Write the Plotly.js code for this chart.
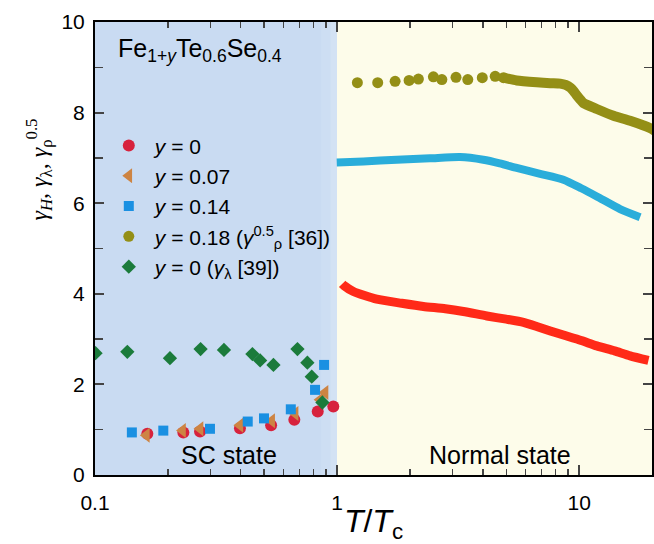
<!DOCTYPE html>
<html>
<head>
<meta charset="utf-8">
<script src="https://cdn.plot.ly/plotly-3.0.1.min.js"></script>
<style>html,body{margin:0;padding:0;background:#fff;}#chart{width:654px;height:544px;}</style>
</head>
<body>
<div id="chart"></div>
<script>
// ---- data ----
// Superconducting state, gamma_H
var scX_y0   = [0.1645, 0.2317, 0.2716, 0.397, 0.534, 0.666, 0.832, 0.965];
var scY_y0   = [0.91, 0.94, 0.96, 1.03, 1.10, 1.22, 1.40, 1.51];
var scX_y007 = [0.163, 0.230, 0.2716, 0.397, 0.537, 0.671, 0.851, 0.892];
var scY_y007 = [0.88, 0.98, 1.02, 1.10, 1.20, 1.36, 1.66, 1.82];
var scX_y014 = [0.142, 0.1915, 0.2985, 0.4275, 0.499, 0.644, 0.811, 0.884];
var scY_y014 = [0.94, 0.98, 1.02, 1.18, 1.25, 1.45, 1.88, 2.43];
// gamma_lambda [39]
var lamX = [0.1005, 0.136, 0.204, 0.273, 0.341, 0.447, 0.481, 0.546, 0.686, 0.754, 0.786, 0.870];
var lamY = [2.69, 2.72, 2.58, 2.78, 2.76, 2.67, 2.53, 2.43, 2.78, 2.48, 2.17, 1.60];
// Normal state, y = 0 (red curve)
var nX_y0 = [1.05, 1.069, 1.168, 1.459, 1.85, 2.274, 2.8, 3.327, 4.156, 5.0, 5.89, 6.68, 7.6, 8.61, 10.2, 11.83, 14.0, 16.25, 19.34];
var nY_y0 = [4.22, 4.18, 4.05, 3.88, 3.79, 3.72, 3.67, 3.61, 3.51, 3.44, 3.37, 3.28, 3.18, 3.09, 2.97, 2.85, 2.74, 2.63, 2.53];
// Normal state, y = 0.14 (blue curve)
var nX_y014 = [0.997, 1.284, 1.765, 2.42, 3.22, 4.02, 4.7, 5.52, 6.9, 8.61, 10.2, 11.83, 14.76, 17.86];
var nY_y014 = [6.90, 6.92, 6.96, 6.99, 7.02, 6.96, 6.88, 6.78, 6.65, 6.52, 6.33, 6.15, 5.87, 5.69];
// y = 0.18, gamma_rho^0.5 [36]: separate dots then dense curve
var rhoDotX = [1.213, 1.472, 1.737, 1.984, 2.168, 2.50, 2.71, 3.10, 3.467, 3.98, 4.50, 4.87];
var rhoDotY = [8.66, 8.66, 8.69, 8.71, 8.74, 8.79, 8.73, 8.78, 8.73, 8.77, 8.80, 8.77];
var rhoLineX = [4.87, 5.52, 6.68, 7.6, 8.35, 8.8, 9.2, 9.5, 9.78, 10.1, 10.42, 11.83, 13.87, 16.25, 19.6, 20.5];
var rhoLineY = [8.77, 8.71, 8.67, 8.65, 8.64, 8.61, 8.55, 8.47, 8.38, 8.29, 8.21, 8.08, 7.93, 7.82, 7.66, 7.60];
// axis ticks
var xTickVals = [0.1, 1, 10];
var xTickText = ['0.1', '1', '10'];
var xMinorVals = [0.2,0.3,0.4,0.5,0.6,0.7,0.8,0.9,2,3,4,5,6,7,8,9];
var yTickVals = [0, 2, 4, 6, 8, 10];
var yTickText = ['0', '2', '4', '6', '8', '10'];
var regionX = [0.1, 1, 20];

var traces = [
  {x: scX_y0, y: scY_y0, type: 'scatter', mode: 'markers', name: '<i>y</i> = 0',
   marker: {symbol: 'circle', size: 12, color: '#d7223d'}},
  {x: scX_y007, y: scY_y007, type: 'scatter', mode: 'markers', name: '<i>y</i> = 0.07',
   marker: {symbol: 'triangle-left', size: 13, color: '#cd8443'}},
  {x: scX_y014, y: scY_y014, type: 'scatter', mode: 'markers', name: '<i>y</i> = 0.14',
   marker: {symbol: 'square', size: 10, color: '#1a90e2'}},
  {x: rhoDotX, y: rhoDotY, type: 'scatter', mode: 'markers', name: '<i>y</i> = 0.18 (<i>γ</i><sup>0.5</sup><sub>ρ</sub> [36])',
   marker: {symbol: 'circle', size: 11, color: '#948f16'}},
  {x: lamX, y: lamY, type: 'scatter', mode: 'markers', name: '<i>y</i> = 0 (<i>γ</i><sub>λ</sub> [39])',
   marker: {symbol: 'diamond', size: 11, color: '#1b7b3b'}},
  {x: rhoLineX, y: rhoLineY, type: 'scatter', mode: 'lines', showlegend: false,
   line: {color: '#948f16', width: 10, shape: 'spline', smoothing: 0.6}},
  {x: nX_y014, y: nY_y014, type: 'scatter', mode: 'lines', showlegend: false,
   line: {color: '#2aadda', width: 8, shape: 'spline', smoothing: 0.6}},
  {x: nX_y0, y: nY_y0, type: 'scatter', mode: 'lines', showlegend: false,
   line: {color: '#ff2a18', width: 9, shape: 'spline', smoothing: 0.6}}
];

var layout = {
  width: 654, height: 544,
  margin: {l: 95, r: 2, t: 22, b: 69},
  paper_bgcolor: '#ffffff', plot_bgcolor: '#ffffff',
  font: {family: 'Liberation Sans, Arial, sans-serif', color: '#000'},
  showlegend: true,
  legend: {x: 0.014, y: 0.772, xanchor: 'left', yanchor: 'top', bgcolor: 'rgba(0,0,0,0)',
           font: {size: 21, color: '#000'}, tracegroupgap: 0, itemwidth: 42},
  xaxis: {type: 'log', range: [Math.log10(regionX[0]), Math.log10(regionX[2])],
          tickvals: xTickVals, ticktext: xTickText, ticks: 'inside', ticklen: 10, tickwidth: 2,
          showline: true, linewidth: 2, linecolor: '#000', mirror: 'allticks', showgrid: false, zeroline: false,
          tickfont: {size: 21}, ticklabelstandoff: 8,
          minor: {tickvals: xMinorVals, ticks: 'inside', ticklen: 6, tickwidth: 1.5, showgrid: false},
          title: {text: '<i>T</i>/<i>T</i><sub>c</sub>', font: {size: 32}, standoff: 8}},
  yaxis: {range: [0, 10], tickvals: yTickVals, ticktext: yTickText, ticks: 'inside', ticklen: 9, tickwidth: 2,
          showline: true, linewidth: 2, linecolor: '#000', mirror: 'allticks', showgrid: false, zeroline: false,
          tickfont: {size: 21}, ticklabelstandoff: 4,
          minor: {dtick: 1, ticks: 'inside', ticklen: 8, tickwidth: 1.5, showgrid: false}},
  shapes: [
    {type: 'rect', xref: 'x', yref: 'paper', x0: regionX[0], x1: regionX[1], y0: 0, y1: 1,
     fillcolor: '#c9dbf2', line: {width: 0}, layer: 'below'},
    {type: 'rect', xref: 'x', yref: 'paper', x0: 0.86, x1: regionX[1], y0: 0, y1: 1,
     fillcolor: '#cddef3', line: {width: 0}, layer: 'below'},
    {type: 'rect', xref: 'x', yref: 'paper', x0: 0.94, x1: regionX[1], y0: 0, y1: 1,
     fillcolor: '#d3e2f4', line: {width: 0}, layer: 'below'},
    {type: 'rect', xref: 'x', yref: 'paper', x0: regionX[1], x1: regionX[2], y0: 0, y1: 1,
     fillcolor: '#fdfcea', line: {width: 0}, layer: 'below'}
  ],
  annotations: [
    {xref: 'paper', yref: 'paper', x: 0.037, y: 0.978, xanchor: 'left', yanchor: 'top', showarrow: false,
     text: 'Fe<sub>1+<i>y</i></sub>Te<sub>0.6</sub>Se<sub>0.4</sub>', font: {size: 25, color: '#000'}},
    {xref: 'paper', yref: 'paper', x: -0.1, y: 0.675, xanchor: 'center', yanchor: 'middle', showarrow: false,
     textangle: -90,
     text: '<i>γ</i><sub><i>H</i></sub>, <i>γ</i><sub>λ</sub>, <i>γ</i><sub>ρ</sub><sup>0.5</sup>',
     font: {size: 24, family: 'Liberation Serif, Times New Roman, serif', color: '#000'}},
    {xref: 'x', yref: 'y', x: Math.log10(0.358), y: 0.45, xanchor: 'center', yanchor: 'middle', showarrow: false,
     text: 'SC state', font: {size: 25, color: '#000'}},
    {xref: 'x', yref: 'y', x: Math.log10(4.72), y: 0.45, xanchor: 'center', yanchor: 'middle', showarrow: false,
     text: 'Normal state', font: {size: 25, color: '#000'}}
  ]
};

Plotly.newPlot('chart', traces, layout, {displayModeBar: false, staticPlot: true});
</script>
</body>
</html>
